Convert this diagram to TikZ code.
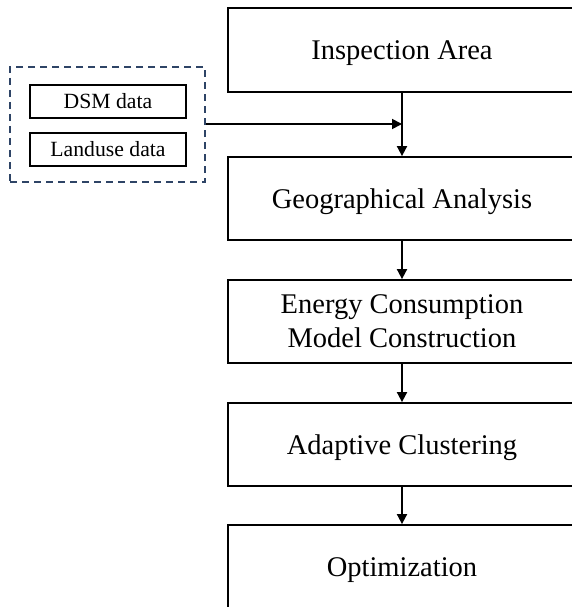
\documentclass[tikz,border=0pt]{standalone}
\usepackage{fontspec}
\setmainfont{Liberation Serif}
\usetikzlibrary{arrows.meta}
\definecolor{frameblue}{HTML}{2E4466}
\tikzset{
  stagebox/.style={draw=black, line width=1.8pt, rectangle, minimum width=348pt,
    inner sep=0pt, align=center, text depth=0pt, font=\fontsize{28.5}{34}\selectfont},
  databox/.style={draw=black, line width=1.8pt, rectangle, minimum width=156pt,
    minimum height=33pt, inner sep=0pt, font=\fontsize{21.7}{26}\selectfont},
  flow/.style={line width=1.8pt, -{Triangle[length=10pt,width=10pt]}},
}
\begin{document}
\begin{tikzpicture}[x=1pt,y=1pt]
  \useasboundingbox (0,0) rectangle (572,-607);
  \clip (0,0) rectangle (572,-607);
  \fill[white] (0,0) rectangle (572,-607);

  % main pipeline
  \node[stagebox, minimum height=84pt] (area) at (402,-50) {Inspection Area};
  \node[stagebox, minimum height=83pt] (geo) at (402,-198.5) {Geographical Analysis};
  \node[stagebox, minimum height=83pt] (energy) at (402,-321.5) {Energy Consumption\\Model Construction};
  \node[stagebox, minimum height=83pt] (cluster) at (402,-444.5) {Adaptive Clustering};
  \node[stagebox, minimum height=84pt] (opt) at (402,-567) {Optimization};

  % input data group
  \node[databox] (dsm) at (108,-101.5) {DSM data};
  \node[databox] (land) at (108,-149.5) {Landuse data};
  \node[draw=frameblue, line width=1.8pt, dash pattern=on 7pt off 5pt,
        rectangle, minimum width=195pt, minimum height=115pt, inner sep=0pt]
        (inputs) at (107.5,-124.5) {};

  % connectors
  \coordinate (join) at (402,-124);
  \draw[flow] (area) -- (geo);
  \draw[flow] (inputs.east |- join) -- (join);
  \draw[flow] (geo) -- (energy);
  \draw[flow] (energy) -- (cluster);
  \draw[flow] (cluster) -- (opt);
\end{tikzpicture}
\end{document}
